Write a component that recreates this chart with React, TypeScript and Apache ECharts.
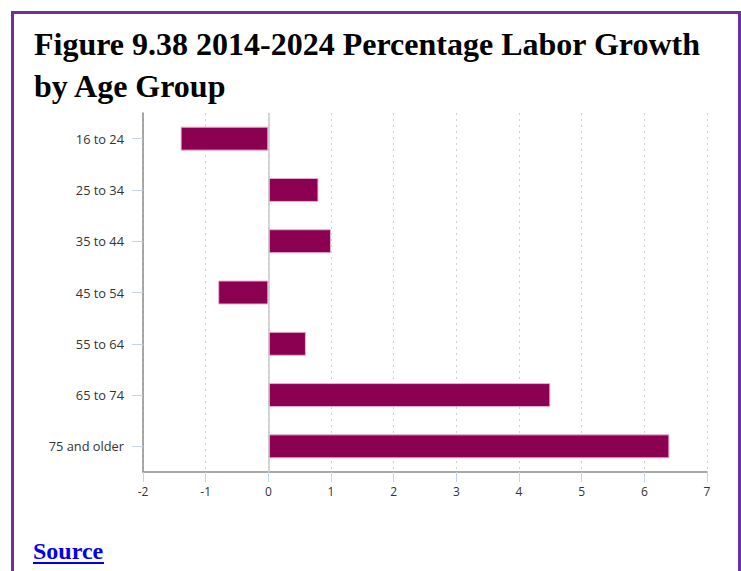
import React, { useEffect, useRef } from "react";
import * as echarts from "echarts";

const categories = ["16 to 24", "25 to 34", "35 to 44", "45 to 54", "55 to 64", "65 to 74", "75 and older"];
const growth = [-1.4, 0.8, 1.0, -0.8, 0.6, 4.5, 6.4];
const xTicks = { min: -2, max: 7, interval: 1 };
const titleText = "Figure 9.38 2014-2024 Percentage Labor Growth\nby Age Group";
const sourceText = "Source";

export default function App() {
  const ref = useRef<HTMLDivElement>(null);
  useEffect(() => {
    if (!ref.current) return;
    const chart = echarts.init(ref.current, null, { renderer: "svg" });
    chart.setOption({
      animation: false,
      backgroundColor: "#ffffff",
      title: {
        text: titleText,
        left: 29,
        top: 18,
        textStyle: {
          fontFamily: "Liberation Serif",
          fontWeight: "bold",
          fontSize: 32,
          lineHeight: 42,
          color: "#000000",
        },
      },
      grid: { left: 143, right: 34, top: 113, bottom: 99, containLabel: false },
      xAxis: {
        type: "value",
        min: xTicks.min,
        max: xTicks.max,
        interval: xTicks.interval,
        axisLine: { show: true, onZero: false, lineStyle: { color: "#8c8c8c", width: 1.5 } },
        axisTick: { show: true, length: 10, lineStyle: { color: "#c6d5e6", width: 1 } },
        axisLabel: { margin: 13, fontFamily: "Open Sans", fontSize: 12, color: "#333333" },
        splitLine: { show: true, lineStyle: { color: "#d0d0d0", type: [2, 4], width: 1 } },
      },
      yAxis: {
        type: "category",
        data: categories,
        inverse: true,
        axisLine: { show: true, onZero: false, lineStyle: { color: "#8c8c8c", width: 1.5 } },
        axisTick: { show: true, length: 11, alignWithLabel: true, lineStyle: { color: "#c6d5e6", width: 1 } },
        axisLabel: { margin: 19, fontFamily: "Open Sans", fontSize: 12.8, color: "#333333" },
        splitLine: { show: false },
      },
      series: [
        {
          type: "bar",
          data: growth,
          barWidth: 24,
          itemStyle: { color: "#8b0050", borderColor: "#e6b3cf", borderWidth: 1 },
          markLine: {
            silent: true,
            symbol: ["none", "none"],
            label: { show: false },
            lineStyle: { color: "#c8c8c8", type: "solid", width: 1.5 },
            data: [{ xAxis: 0 }],
          },
        },
      ],
      graphic: [
        {
          type: "rect",
          shape: { x: 12.5, y: 12.5, width: 727, height: 620 },
          style: { fill: "none", stroke: "#7030a0", lineWidth: 3 },
          silent: true,
        },
        {
          type: "text",
          x: 33,
          y: 539,
          style: {
            text: sourceText,
            fontFamily: "Liberation Serif",
            fontWeight: "bold",
            fontSize: 24,
            fill: "#0000ee",
          },
        },
        {
          type: "line",
          shape: { x1: 33, y1: 563, x2: 104, y2: 563 },
          style: { stroke: "#0000ee", lineWidth: 2 },
        },
      ],
    });
    return () => chart.dispose();
  }, []);
  return (
    <div
      ref={ref}
      style={{ position: "fixed", left: 0, top: 0, width: 741, height: 571 }}
    />
  );
}
